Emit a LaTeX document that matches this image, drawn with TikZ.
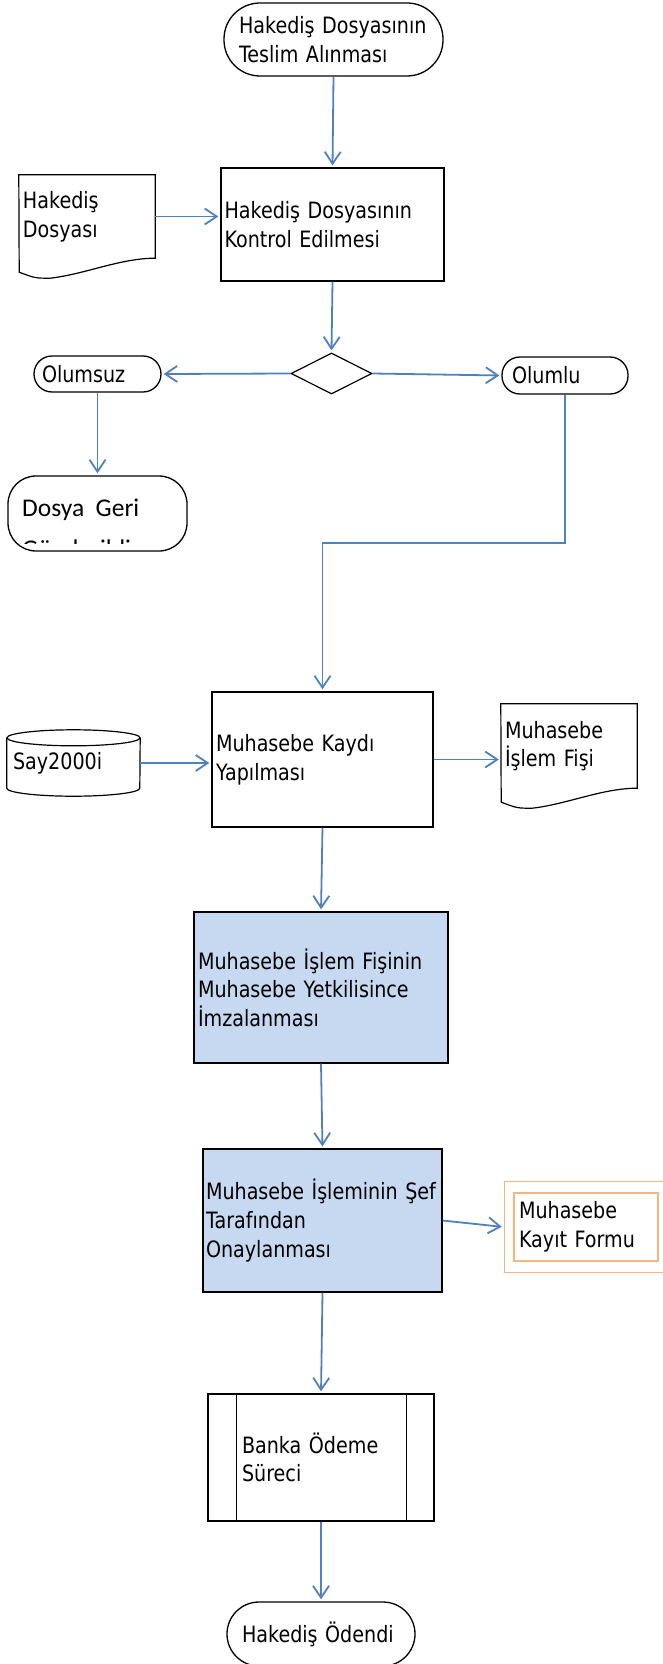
\documentclass[tikz,border=0pt]{standalone}
\usepackage{fontspec}
\setmainfont{DejaVu Sans}[FakeStretch=0.85]
\newfontfamily\gillfont{Carlito}
\usetikzlibrary{shapes.geometric,arrows.meta,fit,calc}
\definecolor{flowblue}{RGB}{79,129,189}
\definecolor{boxblue}{RGB}{198,217,240}
\definecolor{formorange}{RGB}{247,180,125}
\newcommand{\boxfont}{\fontsize{22.5}{28.6}\selectfont}
% document shape with wavy bottom
\newcommand{\docshape}[1]{%
  \draw[line width=1.2pt] (#1.north west) -- (#1.north east) -- (#1.south east)
    .. controls +(-35,0) and +(35,-4) .. ++(-105,20)
    .. controls +(-15,0) .. ++(-31,-6) -- cycle;}
% database cylinder
\newcommand{\dbshape}[1]{%
  \draw[line width=1.2pt] (#1.north west) -- (#1.south west)
    arc[start angle=180,end angle=360,x radius=66.5pt,y radius=8pt]
    -- (#1.north east);
  \draw[line width=1.2pt] (#1.north) ellipse[x radius=66.5pt,y radius=8pt];}
\tikzset{
  base/.style={font=\boxfont, align=left, inner ysep=0pt},
  procbox/.style={base, draw, line width=1.3pt},
  termbox/.style={base, draw, line width=1.3pt},
  flow/.style={draw=flowblue, line width=1.8pt, -{Straight Barb[length=12pt,width=16pt]}, shorten >=2pt},
}
\begin{document}
\begin{tikzpicture}[x=1pt,y=-1pt]
\useasboundingbox (0,0) rectangle (663,1664);
% upper part
\node[termbox, rounded corners=36pt, minimum height=73pt, text width=189pt, inner xsep=15pt] (start) at (333.5,39.5) {Hakediş Dosyasının\\Teslim Alınması};
\node[procbox, minimum height=113pt, text width=216pt, inner xsep=3.5pt] (kontrol) at (332.5,224.5) {Hakediş Dosyasının\\Kontrol Edilmesi};
\node[base, minimum height=83pt, text width=128pt, inner xsep=4pt] (dosya) at (87,216.5) {Hakediş\\Dosyası};
\docshape{dosya}
\node[draw, diamond, aspect=2, minimum width=81pt, minimum height=41pt, inner sep=0pt, line width=1.2pt] (karar) at (331.5,373.5) {};
\node[termbox, rounded corners=18pt, minimum height=36pt, text width=111pt, inner xsep=8pt] (olumsuz) at (97.5,374) {Olumsuz};
\node[termbox, rounded corners=18pt, minimum height=37pt, text width=106pt, inner xsep=10pt] (olumlu) at (565,375.5) {Olumlu};
\node[draw, line width=1.3pt, rounded corners=28pt, minimum width=179pt, minimum height=75pt] (geri) at (97.5,513.5) {};
\begin{scope}
  \clip (geri.north west) rectangle ($(geri.south east)+(0,-8)$);
  \node[anchor=base west, font=\gillfont\fontsize{25.5}{41}\selectfont, align=left, inner sep=0pt] (geritext) at (22,557) {Dosya\ \ Geri\\Gönderildi};
\end{scope}
% middle part
\node[base, minimum height=50pt, text width=121pt, inner xsep=6pt] (say) at (73.5,763) {Say2000i};
\dbshape{say}
\node[procbox, minimum height=135pt, text width=213pt, inner xsep=4pt] (kayit) at (322.5,759.5) {Muhasebe Kaydı\\Yapılması};
\node[base, minimum height=84pt, text width=128pt, inner xsep=4pt] (fis) at (569,746) {Muhasebe\\İşlem Fişi};
\docshape{fis}
\node[procbox, fill=boxblue, minimum height=151pt, text width=246pt, inner xsep=4pt] (imza) at (321,987.5) {Muhasebe İşlem Fişinin\\Muhasebe Yetkilisince\\İmzalanması};
\node[procbox, fill=boxblue, minimum height=143pt, text width=233pt, inner xsep=3pt] (onay) at (322.5,1220.5) {Muhasebe İşleminin Şef\\Tarafından\\Onaylanması};
\node[base, draw=formorange, line width=1.2pt, minimum height=68pt, text width=134pt, inner xsep=5pt] (form) at (586,1227) {Muhasebe\\Kayıt Formu};
\node[draw=formorange, line width=1.2pt, fit=(form), inner xsep=9pt, inner ysep=11pt] (formdis) {};
% lower part
\node[procbox, minimum height=127pt, text width=158pt, inner xsep=34pt] (banka) at (321,1457.5) {Banka Ödeme\\Süreci};
\draw[line width=1.3pt] ($(banka.north west)+(29,0)$) -- ($(banka.south west)+(29,0)$);
\draw[line width=1.3pt] ($(banka.north east)+(-28,0)$) -- ($(banka.south east)+(-28,0)$);
\node[termbox, rounded corners=32pt, minimum height=64pt, text width=158pt, inner xsep=15pt] (son) at (321,1634) {Hakediş Ödendi};
% connectors
\draw[flow] (start.south) -- (kontrol.north);
\draw[flow] (dosya.east) -- (dosya.east -| kontrol.west);
\draw[flow] (kontrol.south) -- (karar.north);
\draw[flow] (karar.west) -- (olumsuz.east);
\draw[flow] (karar.east) -- (olumlu.west);
\draw[flow] (olumsuz.south) -- (geri.north);
\coordinate (kirilma) at (565,543);
\draw[flow] (olumlu.south) -- (kirilma) -| (kayit.north);
\draw[flow] (say.east) -- (say.east -| kayit.west);
\draw[flow] (kayit.east) -- (kayit.east -| fis.west);
\draw[flow] (kayit.south) -- (imza.north);
\draw[flow] (imza.south) -- (onay.north);
\draw[flow] (onay.east) -- (formdis.west);
\draw[flow] (onay.south) -- (banka.north);
\draw[flow] (banka.south) -- (son.north);
\end{tikzpicture}
\end{document}
